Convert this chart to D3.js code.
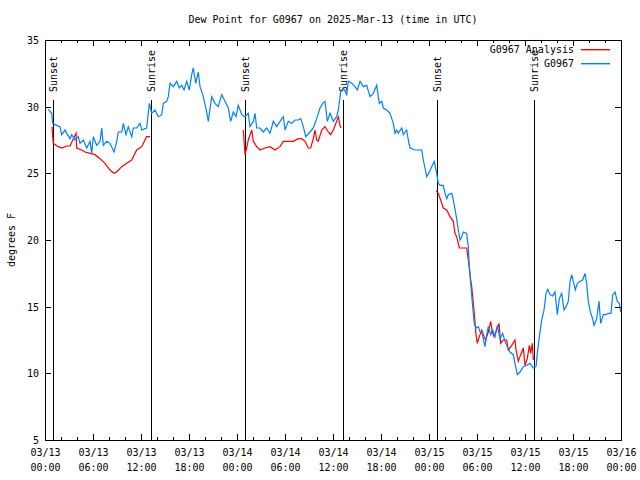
<!DOCTYPE html>
<html>
<head>
<meta charset="utf-8">
<script src="https://cdn.jsdelivr.net/npm/d3@7"></script>
<style>
  html, body { margin: 0; padding: 0; background: #fff; }
  svg text { font-family: "DejaVu Sans Mono", "Liberation Mono", monospace; font-size: 10px; fill: #000; }
</style>
</head>
<body>
<svg id="chart" width="640" height="480"></svg>
<script>
// ---------- DATA ----------
const startUTC = "2025-03-13T00:00:00Z";
const titleText = "Dew Point for G0967 on 2025-Mar-13 (time in UTC)";
const yLabel = "degrees F";
const seriesNames = ["G0967 Analysis", "G0967"];
const yTicks = [5, 10, 15, 20, 25, 30, 35];
const xTickHours = [0, 6, 12, 18, 24, 30, 36, 42, 48, 54, 60, 66, 72];

// observed station (hours since start, deg F)
const obsHours = [0.41,0.84,0.96,1.46,1.88,2.09,2.5,2.71,3.13,3.34,3.75,4.16,4.38,4.79,5.21,5.63,5.84,6.04,6.46,6.88,
  7.09,7.29,7.71,8.13,8.63,8.96,9.16,9.59,9.79,10.13,10.41,10.84,11.04,11.46,11.88,12.09,12.71,13.04,13.34,13.75,
  14.16,14.59,14.79,15.21,15.41,15.63,16.04,16.46,16.79,17.09,17.38,17.71,18.04,18.34,18.54,18.84,19.16,19.38,19.79,20.21,
  20.41,20.84,21.25,21.66,22.09,22.5,22.91,23.21,23.54,23.88,24.16,24.59,25.0,25.41,25.63,26.04,26.25,26.46,26.88,27.29,
  27.71,28.13,28.54,28.96,29.38,29.79,30.0,30.41,30.84,31.25,31.66,31.96,32.29,32.59,33.13,33.54,33.96,34.38,34.71,35.0,
  35.29,35.63,36.04,36.46,36.66,36.96,37.29,37.71,37.91,38.34,38.75,39.04,39.38,39.79,40.21,40.63,41.04,41.46,41.79,42.09,
  42.29,42.71,43.13,43.34,43.54,43.75,43.96,44.16,44.59,44.79,45.21,45.41,45.63,46.25,47.09,47.29,47.5,47.71,48.04,48.34,
  48.66,48.96,49.16,49.38,49.79,50.0,50.21,50.41,50.84,51.04,51.46,51.66,51.88,52.09,52.29,52.71,52.91,53.04,53.21,53.46,
  53.66,53.88,54.16,54.38,54.59,54.79,55.0,55.21,55.41,55.71,55.96,56.25,56.54,56.88,57.21,57.5,57.79,58.13,58.54,58.75,
  59.04,59.38,59.79,60.21,60.63,60.91,61.04,61.38,61.54,61.79,62.09,62.38,62.63,62.84,63.13,63.46,63.75,64.04,64.29,64.59,
  64.88,65.13,65.41,65.63,65.84,66.04,66.29,66.54,66.88,67.21,67.5,67.71,67.91,68.21,68.46,68.63,68.96,69.25,69.46,69.79,
  70.13,70.41,70.75,70.96,71.25,71.54,71.79,71.96];
const obsDew = [29.8,29.5,28.75,28.6,28.5,27.9,28.25,28.0,27.6,27.9,27.5,27.75,27.25,27.5,26.9,27.4,26.5,27.75,27.1,27.4,
  28.4,27.1,27.4,27.25,26.6,27.4,28.1,28.1,28.75,27.9,28.5,27.75,28.4,28.4,28.75,28.25,28.4,30.25,29.5,29.75,
  29.25,29.4,30.25,30.4,30.75,31.75,31.5,31.9,31.4,31.6,31.25,31.9,31.25,32.4,32.9,31.75,32.6,31.5,30.75,29.6,
  28.9,30.75,30.25,30.0,30.9,30.4,29.9,28.9,29.6,29.25,30.1,29.4,29.25,29.5,28.5,28.9,29.5,28.4,28.4,28.1,
  28.4,28.0,28.9,28.5,28.9,29.25,28.25,28.9,28.75,29.0,29.0,29.1,28.5,27.75,28.1,28.4,29.1,29.9,30.25,30.4,
  28.9,29.5,28.9,29.25,29.75,31.1,31.4,30.9,31.9,31.75,31.5,31.25,31.9,31.5,31.6,30.75,31.0,31.6,30.25,30.4,
  29.9,29.75,29.5,29.1,28.75,28.0,28.25,28.0,28.4,27.9,28.25,27.5,26.9,26.75,26.75,26.0,25.4,24.75,25.1,25.5,
  25.9,25.0,24.25,24.1,24.1,23.5,23.1,23.4,23.5,23.0,21.6,20.75,20.0,20.25,20.6,20.5,19.5,18.0,16.75,15.0,
  13.75,13.4,13.5,13.1,13.1,12.6,12.0,12.9,13.5,12.9,13.25,12.75,13.6,12.6,13.0,12.4,12.0,11.6,11.4,10.75,
  9.9,10.1,10.5,10.6,10.75,10.5,10.4,10.5,11.5,12.75,14.0,14.75,16.0,16.3,15.9,15.8,16.1,14.4,15.6,16.0,
  14.75,15.0,15.4,16.9,17.4,16.9,16.25,16.75,16.9,17.0,17.5,16.75,15.4,14.5,14.1,13.6,14.1,15.4,13.75,14.4,
  14.4,14.5,14.5,15.9,16.1,15.4,15.25,14.6];

// analysis (only overnight); null separates segments
const anaHours = [0.88,0.94,1.04,1.66,2.09,2.71,3.13,3.54,3.88,3.96,4.59,5.0,5.63,6.25,6.88,7.5,8.13,8.63,8.96,9.59,
  10.21,10.84,11.46,12.09,12.71,13.13, 13.2,
  24.79,25.0,25.21,25.41,25.84,26.04,26.46,26.88,27.5,28.13,28.75,29.38,29.79,30.41,31.04,31.66,32.09,32.5,32.91,33.21,
  33.54,33.75,33.96,34.16,34.59,35.0,35.41,35.71,36.04,36.46,36.66,36.88,37.0, 37.1,
  48.88,49.16,49.46,49.79,50.21,50.63,51.04,51.25,51.46,51.79,52.29,52.71,52.91,53.04,53.21,53.34,53.46,53.66,53.88,54.04,
  54.29,54.59,54.88,55.09,55.41,55.71,55.91,56.13,56.46,56.75,56.96,57.29,57.71,57.91,58.34,58.75,58.88,59.16,59.46,59.79,
  60.0,60.29,60.54,60.71,60.91,61.04];
const anaDew = [28.5,27.9,27.25,27.0,26.9,27.05,27.05,27.6,28.0,26.9,26.75,26.6,26.5,26.4,26.1,25.75,25.25,25.0,25.1,25.5,
  25.75,26.0,26.75,27.0,27.75,27.75, null,
  28.25,26.4,26.9,27.5,28.25,27.4,27.0,26.75,26.9,27.0,26.75,27.0,27.4,27.4,27.4,27.6,27.6,27.4,26.9,26.9,
  27.6,28.25,27.5,27.4,28.25,28.5,28.1,27.9,28.25,28.9,29.25,28.6,28.4, null,
  23.7,23.5,23.0,22.4,22.25,21.75,21.4,20.5,20.25,19.4,19.4,19.4,18.5,17.9,17.0,16.5,15.75,14.5,12.9,12.25,
  12.75,13.25,12.75,12.5,13.1,13.9,13.1,12.75,13.25,13.75,12.25,12.5,12.5,11.75,12.1,12.5,11.75,10.9,11.4,11.9,
  10.6,11.1,12.1,11.5,12.25,11.0];

// sun events (hours since start)
const sunHours = [1.05, 13.22, 25.05, 37.25, 48.98, 61.18];
const sunLabels = ["Sunset", "Sunrise", "Sunset", "Sunrise", "Sunset", "Sunrise"];

// ---------- CHART ----------
const base = new Date(startUTC).getTime();
const toDate = h => new Date(base + h * 3600e3);

const svg = d3.select("#chart");
const L = 45, R = 621, T = 40, B = 440;

const x = d3.scaleUtc().domain([toDate(0), toDate(72)]).range([L, R]);
const y = d3.scaleLinear().domain([5, 35]).range([B, T]);
const yGraph = d3.scaleLinear().domain([0, 1]).range([B, T]);

const fmtDay = d3.utcFormat("%m/%d");
const fmtTime = d3.utcFormat("%H:%M");
const majorTicks = xTickHours.map(toDate);
const minorTicks = d3.utcHour.every(2).range(toDate(0), toDate(72.01)).filter(d => d.getUTCHours() % 6 !== 0);

// bottom axis
const gB = svg.append("g").attr("transform", `translate(0,${B})`)
  .call(d3.axisBottom(x).tickValues(majorTicks).tickSizeInner(-6).tickSizeOuter(0).tickPadding(8).tickFormat(""));
gB.select(".domain").remove();
gB.selectAll(".tick text").each(function(d) {
  const t = d3.select(this);
  t.text(null).attr("y", 0).attr("dy", null);
  t.append("tspan").attr("x", 0).attr("y", 16).text(fmtDay(d));
  t.append("tspan").attr("x", 0).attr("y", 31).text(fmtTime(d));
});
svg.append("g").attr("transform", `translate(0,${B})`)
  .call(d3.axisBottom(x).tickValues(minorTicks).tickSizeInner(-3).tickSizeOuter(0).tickFormat(""))
  .select(".domain").remove();

// top mirror
const gT = svg.append("g").attr("transform", `translate(0,${T})`)
  .call(d3.axisTop(x).tickValues(majorTicks).tickSizeInner(-6).tickSizeOuter(0).tickFormat(""));
gT.select(".domain").remove();
svg.append("g").attr("transform", `translate(0,${T})`)
  .call(d3.axisTop(x).tickValues(minorTicks).tickSizeInner(-3).tickSizeOuter(0).tickFormat(""))
  .select(".domain").remove();

// left axis
const gL = svg.append("g").attr("transform", `translate(${L},0)`)
  .call(d3.axisLeft(y).tickValues(yTicks).tickSizeInner(-6).tickSizeOuter(0).tickPadding(6).tickFormat(d3.format("d")));
gL.select(".domain").remove();
gL.selectAll(".tick text").attr("x", -6).attr("dy", "0.35em");
// right mirror
svg.append("g").attr("transform", `translate(${R},0)`)
  .call(d3.axisRight(y).tickValues(yTicks).tickSizeInner(-6).tickSizeOuter(0).tickFormat(""))
  .select(".domain").remove();

svg.selectAll(".tick line").attr("stroke", "#000").attr("shape-rendering", "crispEdges");
svg.selectAll("g text").style("font-family", "\"DejaVu Sans Mono\", monospace").style("font-size", "10px");

// frame
svg.append("rect").attr("x", L + 0.5).attr("y", T + 0.5).attr("width", R - L).attr("height", B - T)
  .attr("fill", "none").attr("stroke", "#000").attr("shape-rendering", "crispEdges");

// sun event lines
sunHours.forEach((h, i) => {
  const xx = Math.round(x(toDate(h))) + 0.5;
  svg.append("line").attr("x1", xx).attr("x2", xx).attr("y1", yGraph(0)).attr("y2", yGraph(0.85))
    .attr("stroke", "#000").attr("stroke-width", 1).attr("shape-rendering", "crispEdges");
  svg.append("text").attr("transform", `translate(${xx},${yGraph(0.87)}) rotate(-90)`)
    .attr("text-anchor", "start").attr("dy", "0.35em").text(sunLabels[i]);
});

// series
const lineGen = d3.line()
  .defined(d => d.v !== null)
  .x(d => x(toDate(d.h))).y(d => y(d.v));
const anaData = anaHours.map((h, i) => ({h, v: anaDew[i]}));
const obsData = obsHours.map((h, i) => ({h, v: obsDew[i]}));
const colors = ["#ff0000", "#0080ff"];
const plot = svg.append("g");
plot.append("path").datum(anaData).attr("d", lineGen).attr("fill", "none")
  .attr("stroke", colors[0]).attr("stroke-width", 1.2).attr("stroke-linejoin", "miter");
plot.append("path").datum(obsData).attr("d", lineGen).attr("fill", "none")
  .attr("stroke", colors[1]).attr("stroke-width", 1.2).attr("stroke-linejoin", "miter");

// title & y label
svg.append("text").attr("x", 333).attr("y", 19).attr("dy", "0.35em").attr("text-anchor", "middle").text(titleText);
svg.append("text").attr("transform", `translate(11,240) rotate(-90)`).attr("dy", "0.35em").attr("text-anchor", "middle").text(yLabel);

// legend
seriesNames.forEach((name, i) => {
  const ly = 49 + i * 14;
  svg.append("text").attr("x", 574).attr("y", ly).attr("dy", "0.35em").attr("text-anchor", "end").text(name);
  svg.append("rect").attr("x", 581).attr("y", ly).attr("width", 29).attr("height", 1.4)
    .attr("fill", colors[i]);
});
</script>
</body>
</html>
